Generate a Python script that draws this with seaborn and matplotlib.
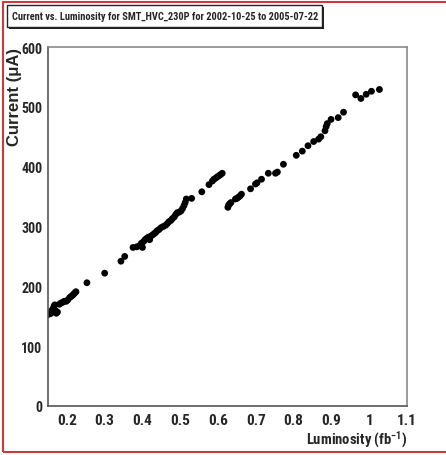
import matplotlib
matplotlib.use("Agg")
import matplotlib.pyplot as plt
import seaborn as sns
import pandas as pd
from matplotlib.patches import Rectangle
from matplotlib.ticker import MultipleLocator

# ==========================================================
# Data
# ==========================================================
luminosity = [0.150, 0.152, 0.154, 0.156, 0.158, 0.160, 0.162, 0.164, 0.166, 0.168,
              0.170, 0.172, 0.175, 0.180, 0.184, 0.188, 0.193, 0.198, 0.202, 0.207,
              0.211, 0.215, 0.218, 0.221, 0.224, 0.253, 0.300, 0.343, 0.353, 0.375,
              0.385, 0.392, 0.397, 0.400, 0.403, 0.407, 0.411, 0.415, 0.419, 0.422,
              0.427, 0.431, 0.435, 0.439, 0.444, 0.449, 0.455, 0.461, 0.466, 0.470,
              0.475, 0.479, 0.484, 0.488, 0.492, 0.497, 0.502, 0.506, 0.510, 0.513,
              0.516, 0.530, 0.557, 0.576, 0.585, 0.589, 0.594, 0.598, 0.603, 0.607,
              0.611, 0.626, 0.628, 0.631, 0.634, 0.646, 0.650, 0.654, 0.658, 0.662,
              0.686, 0.699, 0.703, 0.715, 0.733, 0.752, 0.757, 0.773, 0.807, 0.823,
              0.838, 0.853, 0.866, 0.872, 0.883, 0.886, 0.889, 0.899, 0.918, 0.932,
              0.964, 0.978, 0.992, 1.006, 1.027]
current = [153, 156, 154, 157, 155, 159, 161, 163, 167, 169,
           159, 155, 157, 170, 172, 173, 175, 175, 177, 181,
           183, 185, 187, 189, 191, 206, 222, 242, 250, 265,
           266, 268, 272, 265, 275, 278, 280, 282, 278, 284,
           286, 288, 290, 293, 295, 298, 300, 302, 305, 308,
           310, 313, 316, 320, 323, 324, 326, 330, 335, 340,
           346, 347, 358, 370, 376, 379, 381, 383, 385, 387,
           389, 332, 336, 338, 340, 346, 347, 349, 351, 354,
           363, 371, 373, 379, 389, 389, 391, 404, 419, 426,
           435, 442, 446, 450, 460, 467, 472, 479, 482, 491,
           520, 514, 521, 526, 529]

df = pd.DataFrame({"luminosity": luminosity, "current": current})

x_ticks = [0.2, 0.3, 0.4, 0.5, 0.6, 0.7, 0.8, 0.9, 1.0, 1.1]
x_ticklabels = ["0.2", "0.3", "0.4", "0.5", "0.6", "0.7", "0.8", "0.9", "1", "1.1"]
title_text = "Current vs. Luminosity for SMT_HVC_230P for 2002-10-25 to 2005-07-22"

# ==========================================================
# Style
# ==========================================================
sns.set_style("white")
narrow = ["Roboto Condensed", "Archivo Narrow", "Barlow Condensed", "Liberation Sans"]
plt.rcParams["font.family"] = narrow
plt.rcParams["font.weight"] = "bold"
plt.rcParams["mathtext.fontset"] = "custom"
plt.rcParams["mathtext.rm"] = "Roboto Condensed:bold"
plt.rcParams["mathtext.it"] = "Roboto Condensed:bold"
plt.rcParams["mathtext.bf"] = "Roboto Condensed:bold"

fig = plt.figure(figsize=(4.46, 4.56), dpi=100)
ax = fig.add_axes([48 / 446, 49 / 456, 359 / 446, 359 / 456])

sns.scatterplot(data=df, x="luminosity", y="current", ax=ax,
                color="black", s=24, edgecolor="none", linewidth=0)

ax.set_xlim(0.15, 1.1)
ax.set_ylim(0, 600)
ax.set_xticks(x_ticks)
ax.set_xticklabels(x_ticklabels)
ax.xaxis.set_minor_locator(MultipleLocator(0.02))
ax.yaxis.set_major_locator(MultipleLocator(100))
ax.yaxis.set_minor_locator(MultipleLocator(20))
ax.tick_params(which="major", direction="in", length=10, width=1, color="#444444",
               labelsize=11, pad=5, top=False, right=False)
ax.tick_params(which="minor", direction="in", length=5, width=1, color="#444444",
               top=False, right=False)
ax.tick_params(axis="y", which="major", labelsize=10, pad=4)
for lab in ax.get_xticklabels() + ax.get_yticklabels():
    lab.set_fontweight("bold")

for side in ["left", "bottom"]:
    ax.spines[side].set_color("#555555")
    ax.spines[side].set_linewidth(1.2)
for side in ["top", "right"]:
    ax.spines[side].set_color("#8a8a8a")
    ax.spines[side].set_linewidth(1.2)

ax.set_xlabel(r"Luminosity (fb$^{-1}$)", fontsize=10.5, fontweight="bold", loc="right")
ax.xaxis.set_label_coords(1.0, -0.062)
ax.set_ylabel("Current (\u03bcA)", fontsize=12, fontweight="bold", loc="top",
              family=["Liberation Sans", "DejaVu Sans"])
ax.yaxis.set_label_coords(-0.072, 1.0)

# red frame around the canvas
fig.patches.append(Rectangle((3 / 446, 3 / 456), 1.2, 450 / 456, transform=fig.transFigure,
                             fill=False, edgecolor="#cc3b3b", linewidth=1.5))

# title box with shadow
fig.patches.append(Rectangle((9 / 446, 1 - 30 / 456), 315 / 446, 22 / 456,
                             transform=fig.transFigure, facecolor="#222222",
                             edgecolor="none"))
fig.patches.append(Rectangle((7 / 446, 1 - 28 / 456), 315 / 446, 22 / 456,
                             transform=fig.transFigure, facecolor="white",
                             edgecolor="#222222", linewidth=1))
title = fig.text(12 / 446, 1 - 17 / 456, title_text, fontsize=11, fontweight="bold",
                 ha="left", va="center")
# shrink the title until it fits inside its box (about 306 px wide)
fig.canvas.draw()
w = title.get_window_extent().width
title.set_fontsize(11 * min(1.0, 306 / w))

fig.savefig("out.png", dpi=100)
